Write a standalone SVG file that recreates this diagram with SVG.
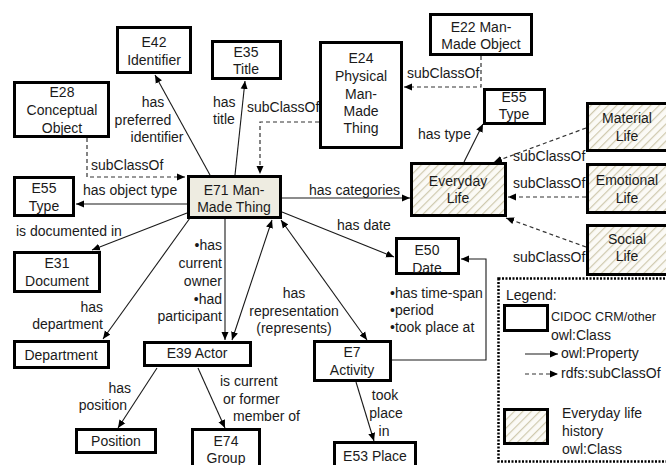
<svg xmlns="http://www.w3.org/2000/svg" width="666" height="465" viewBox="0 0 666 465">
<style>
text{font-family:"Liberation Sans",Arial,sans-serif;font-size:14px;fill:#1a1a1a}
.c{text-anchor:middle}
.r{text-anchor:end}
.box{fill:#fff;stroke:#000;stroke-width:3}
.hat{fill:url(#hatch);stroke:#000;stroke-width:3}
.main{fill:#eeece1;stroke:#000;stroke-width:3}
.ln{fill:none;stroke:#1a1a1a;stroke-width:1.1;marker-end:url(#ah)}
.dl{fill:none;stroke:#333;stroke-width:1.2;stroke-dasharray:4 3;marker-end:url(#ah)}
.both{marker-start:url(#ah)}
</style>
<defs>
<marker id="ah" markerUnits="userSpaceOnUse" markerWidth="9" markerHeight="8" refX="8" refY="4" orient="auto-start-reverse"><path d="M0,0.5 L8,4 L0,7.5 z" fill="#000"/></marker>
<pattern id="hatch" patternUnits="userSpaceOnUse" width="6" height="6" patternTransform="rotate(45)"><rect width="6" height="6" fill="#fbfaf6"/><line x1="0" y1="0" x2="0" y2="6" stroke="#cfc9ae" stroke-width="2.4"/></pattern>
</defs>

<g id="connectors">
<line class="ln" x1="210" y1="175" x2="155" y2="75"/>
<text class="c" x="153" y="107">has</text>
<text class="c" x="143" y="125">preferred</text>
<text class="c" x="157" y="142">identifier</text>

<line class="ln" x1="235" y1="175" x2="245" y2="81"/>
<text x="213" y="107">has</text>
<text x="213" y="124">title</text>

<polyline class="dl" points="319,122 260,122 260,174"/>
<text x="247" y="112">subClassOf</text>

<polyline class="dl" points="481,56 481,87 404,87"/>
<text x="407" y="78">subClassOf</text>

<line class="ln" x1="464" y1="162" x2="483" y2="124"/>
<text x="418" y="139">has type</text>

<line class="dl" x1="586" y1="128" x2="494" y2="162"/>
<text x="513" y="161">subClassOf</text>
<line class="dl" x1="586" y1="197" x2="508" y2="197"/>
<text x="513" y="188">subClassOf</text>
<line class="dl" x1="586" y1="247" x2="506" y2="218"/>
<text x="513" y="262">subClassOf</text>

<polyline class="dl" points="87,138 87,177 185,177"/>
<text x="91" y="170">subClassOf</text>

<line class="ln" x1="187" y1="204" x2="76" y2="204"/>
<text x="83" y="195">has object type</text>

<line class="ln" x1="187" y1="213" x2="92" y2="250"/>
<text x="16" y="236">is documented in</text>

<line class="ln" x1="190" y1="218" x2="103" y2="339"/>
<text class="r" x="103" y="312">has</text>
<text class="r" x="103" y="329">department</text>

<line class="ln" x1="225" y1="219" x2="225" y2="340"/>
<text class="r" x="222" y="250">•has</text>
<text class="r" x="222" y="268">current</text>
<text class="r" x="222" y="286">owner</text>
<text class="r" x="222" y="304">•had</text>
<text class="r" x="222" y="321">participant</text>

<line class="ln both" x1="232" y1="340" x2="272" y2="220"/>
<line class="ln both" x1="367" y1="340" x2="281" y2="220"/>
<text class="c" x="294" y="298">has</text>
<text class="c" x="294" y="316">representation</text>
<text class="c" x="294" y="333">(represents)</text>

<line class="ln" x1="282" y1="212" x2="394" y2="257"/>
<text x="337" y="230">has date</text>

<line class="ln" x1="282" y1="198" x2="410" y2="198"/>
<text x="309" y="195">has categories</text>

<polyline class="ln" points="392,360 486,360 486,259 461,259"/>
<text x="390" y="298">•has time-span</text>
<text x="390" y="315">•period</text>
<text x="390" y="332">•took place at</text>

<line class="ln" x1="356" y1="382" x2="374" y2="441"/>
<text class="c" x="385" y="400">took</text>
<text class="c" x="386" y="418">place</text>
<text class="c" x="384" y="436">in</text>

<line class="ln" x1="157" y1="368" x2="118" y2="428"/>
<text class="r" x="131" y="393">has</text>
<text class="r" x="127" y="410">position</text>

<line class="ln" x1="198" y1="368" x2="225" y2="428"/>
<text x="220" y="386">is current</text>
<text x="223" y="404">or former</text>
<text x="233" y="421">member of</text>
</g>

<g id="e42"><rect class="box" x="117.5" y="27.5" width="73" height="45"/><text class="c" x="154" y="47">E42</text><text class="c" x="154" y="65">Identifier</text></g>
<g id="e28"><rect class="box" x="14.5" y="82.5" width="94" height="54"/><text class="c" x="62" y="97">E28</text><text class="c" x="62" y="115">Conceptual</text><text class="c" x="62" y="133">Object</text></g>
<g id="e35"><rect class="box" x="212.5" y="41.5" width="68" height="37"/><text class="c" x="246" y="57">E35</text><text class="c" x="246" y="74">Title</text></g>
<g id="e24"><rect class="box" x="320.5" y="42.5" width="81" height="105"/><text class="c" x="361" y="63">E24</text><text class="c" x="361" y="81">Physical</text><text class="c" x="361" y="99">Man-</text><text class="c" x="361" y="116">Made</text><text class="c" x="361" y="133">Thing</text></g>
<g id="e22"><rect class="box" x="430.5" y="14.5" width="101" height="40"/><text class="c" x="481" y="32">E22 Man-</text><text class="c" x="481" y="49">Made Object</text></g>
<g id="e55a"><rect class="box" x="484.5" y="89.5" width="60" height="34"/><text class="c" x="514" y="102">E55</text><text class="c" x="514" y="119">Type</text></g>
<g id="material"><rect class="hat" x="587.5" y="103.5" width="85" height="47"/><text class="c" x="627" y="123">Material</text><text class="c" x="627" y="141">Life</text></g>
<g id="emotional"><rect class="hat" x="587.5" y="164.5" width="85" height="48"/><text class="c" x="627" y="185">Emotional</text><text class="c" x="627" y="203">Life</text></g>
<g id="social"><rect class="hat" x="587.5" y="225.5" width="85" height="49"/><text class="c" x="627" y="244">Social</text><text class="c" x="627" y="261">Life</text></g>
<g id="everyday"><rect class="hat" x="411.5" y="163.5" width="94" height="52"/><text class="c" x="458" y="186">Everyday</text><text class="c" x="458" y="203">Life</text></g>
<g id="e71"><rect class="main" x="188.5" y="176.5" width="92" height="41"/><text class="c" x="234" y="195">E71 Man-</text><text class="c" x="234" y="212">Made Thing</text></g>
<g id="e55b"><rect class="box" x="14.5" y="177.5" width="59" height="38"/><text class="c" x="44" y="193">E55</text><text class="c" x="44" y="211">Type</text></g>
<g id="e31"><rect class="box" x="14.5" y="252.5" width="85" height="39"/><text class="c" x="57" y="268">E31</text><text class="c" x="57" y="286">Document</text></g>
<g id="department"><rect class="box" x="14.5" y="341.5" width="94" height="26"/><text class="c" x="61" y="360">Department</text></g>
<g id="e39"><rect class="box" x="144.5" y="342.5" width="106" height="23"/><text class="c" x="197" y="358">E39 Actor</text></g>
<g id="position"><rect class="box" x="76.5" y="429.5" width="79" height="23"/><text class="c" x="116" y="446">Position</text></g>
<g id="e74"><rect class="box" x="192.5" y="429.5" width="67" height="45"/><text class="c" x="226" y="446">E74</text><text class="c" x="226" y="463">Group</text></g>
<g id="e7"><rect class="box" x="314.5" y="341.5" width="76" height="39"/><text class="c" x="352" y="357">E7</text><text class="c" x="352" y="375">Activity</text></g>
<g id="e53"><rect class="box" x="334.5" y="442.5" width="81" height="30"/><text class="c" x="375" y="461">E53 Place</text></g>
<g id="e50"><rect class="box" x="396.5" y="238.5" width="62" height="35"/><text class="c" x="427" y="255">E50</text><text class="c" x="427" y="273">Date</text></g>

<g id="legend">
<rect x="498.5" y="278.5" width="175" height="183" fill="#fff" stroke="#000" stroke-width="2.5" stroke-dasharray="2 1.5"/>
<text x="551" y="321" style="font-size:12.6px">CIDOC CRM/other</text>
<text x="506" y="300">Legend:</text>
<rect class="box" x="504.5" y="305.5" width="43" height="25"/>
<text x="551" y="340">owl:Class</text>
<line class="ln" x1="525" y1="354" x2="558" y2="354"/>
<text x="561" y="358">owl:Property</text>
<line class="dl" x1="525" y1="374" x2="558" y2="374"/>
<text x="561" y="378">rdfs:subClassOf</text>
<rect class="hat" x="504.5" y="409.5" width="43" height="34"/>
<text x="562" y="418">Everyday life</text>
<text x="562" y="436">history</text>
<text x="562" y="454">owl:Class</text>
</g>
</svg>
